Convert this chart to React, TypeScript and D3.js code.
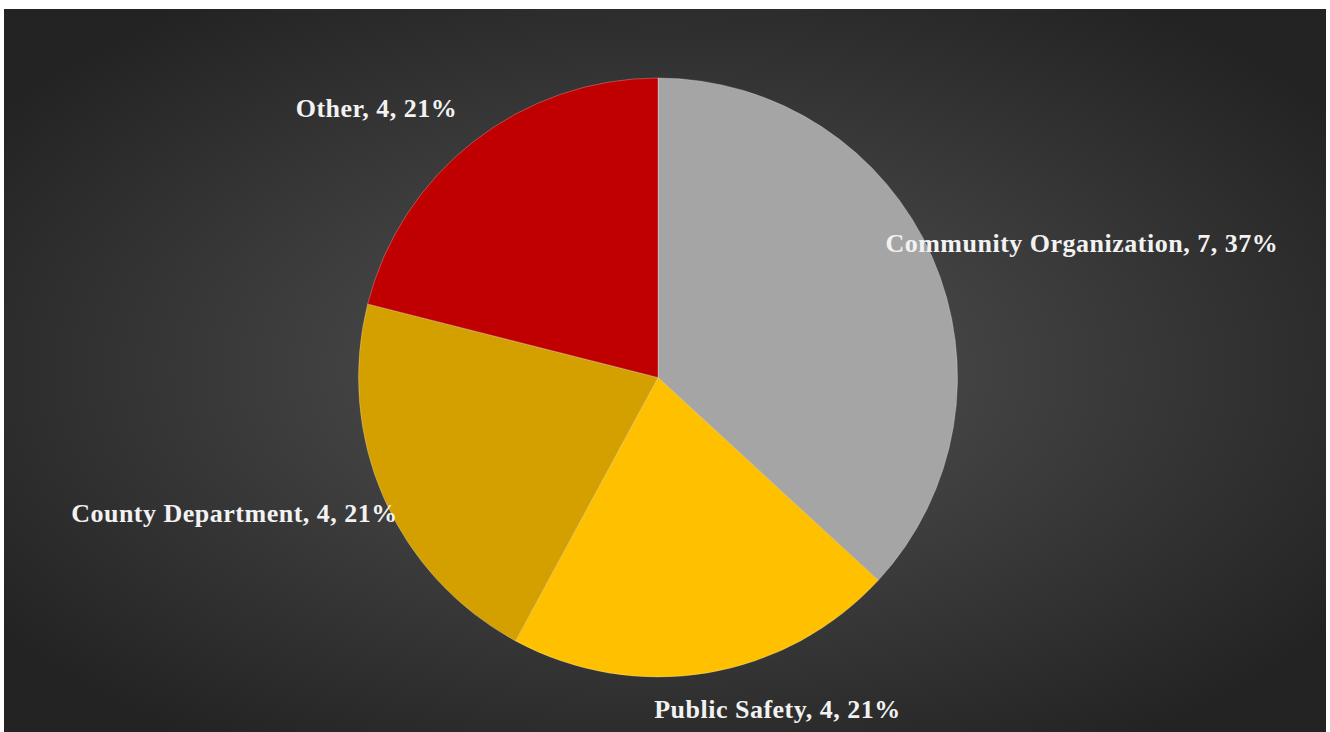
import React from "react";
import * as d3 from "d3";

const categories = ["Community Organization", "Public Safety", "County Department", "Other"];
const values = [7, 4, 4, 4];
const colors = ["#A5A5A5", "#FFC000", "#D3A000", "#C00000"];
// label placement relative to pie center, in units of radius (x = text centre, y = baseline)
const labelOffsets: [number, number][] = [
  [1.415, -0.418],
  [0.399, 1.137],
  [-1.414, 0.482],
  [-0.94, -0.87],
];

const W = 1330;
const H = 732;

export default function App() {
  const cx = 658;
  const cy = 377.5;
  const r = 299.5;
  const total = d3.sum(values);
  const pie = d3.pie<number>().sort(null).value((d) => d)(values);
  const arc = d3.arc<d3.PieArcDatum<number>>().innerRadius(0).outerRadius(r);

  return (
    <svg
      width={W}
      height={H}
      style={{ position: "absolute", left: 0, top: 0, display: "block" }}
    >
      <defs>
        <radialGradient id="bg" cx="50%" cy="50%" r="62%" fx="50%" fy="50%">
          <stop offset="0%" stopColor="#545454" />
          <stop offset="100%" stopColor="#232323" />
        </radialGradient>
      </defs>
      <rect x={0} y={0} width={W} height={H} fill="#ffffff" />
      <rect x={4} y={9} width={1322} height={H - 9} fill="url(#bg)" />
      <g transform={`translate(${cx},${cy})`}>
        {pie.map((p, i) => (
          <path
            key={categories[i]}
            d={arc(p) || ""}
            fill={colors[i]}
            stroke="#ffffff"
            strokeOpacity={0.35}
            strokeWidth={0.75}
          />
        ))}
      </g>
      {pie.map((p, i) => {
        const pct = Math.round((values[i] / total) * 100);
        const [ox, oy] = labelOffsets[i];
        return (
          <text
            key={"l" + categories[i]}
            x={cx + ox * r}
            y={cy + oy * r}
            textAnchor="middle"
            fill="#F2F2F2"
            fontFamily="'Liberation Serif', 'DejaVu Serif', serif"
            fontWeight="bold"
            fontSize={26}
            letterSpacing={0.5}
          >
            {`${categories[i]}, ${values[i]}, ${pct}%`}
          </text>
        );
      })}
    </svg>
  );
}
